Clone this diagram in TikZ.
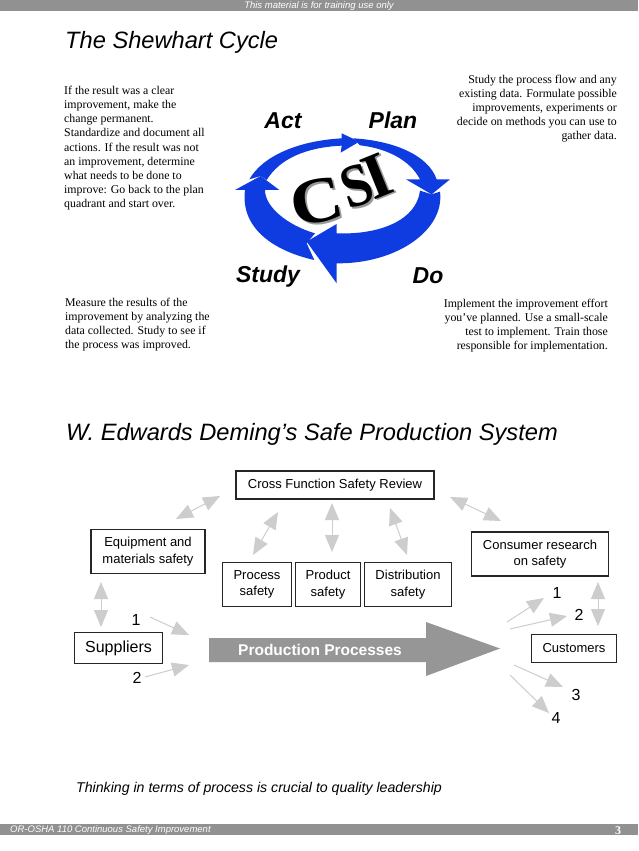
\documentclass[tikz,border=0pt]{standalone}
\usepackage{fontspec}
\setmainfont{Liberation Serif}
\setsansfont{Liberation Sans}
\usetikzlibrary{arrows.meta}
\definecolor{barg}{RGB}{145,145,145}
\definecolor{arrg}{RGB}{205,205,205}
\definecolor{bigg}{RGB}{150,150,150}
\definecolor{csib}{RGB}{15,60,225}
\tikzset{
  x=1pt,y=-1pt,
  bar/.style={fill=barg,draw=none},
  bartext/.style={font=\sffamily\itshape\fontsize{9.5}{10}\selectfont,text=white,inner sep=0},
  heading/.style={font=\sffamily\itshape\fontsize{23.65}{28}\selectfont,anchor=west,inner sep=0},
  body/.style={font=\rmfamily\fontsize{11.85}{14.15}\selectfont,inner sep=0},
  quad/.style={font=\sffamily\bfseries\itshape\fontsize{23}{26}\selectfont,inner sep=0},
  box/.style={draw=black!85,line width=1.1pt,fill=white,align=center,font=\sffamily\fontsize{13}{16.5}\selectfont,inner sep=0},
  num/.style={font=\sffamily\fontsize{16}{16}\selectfont,inner sep=0},
  twoway/.style={draw=arrg,line width=1pt,{Triangle[length=17pt,width=14pt,fill=arrg]}-{Triangle[length=17pt,width=14pt,fill=arrg]}},
  oneway/.style={draw=arrg,line width=1pt,-{Triangle[length=17pt,width=14pt,fill=arrg]}},
  csifont/.style={inner sep=0,font=\rmfamily\bfseries\fontsize{76}{76}\selectfont},
  letterc/.style={csifont,rotate=12,xscale=0.95,yscale=0.85},
  letters/.style={csifont,rotate=18,xscale=0.72,yscale=0.8},
  letteri/.style={csifont,rotate=22,xscale=0.85,yscale=0.85},
}
\begin{document}
\begin{tikzpicture}
\useasboundingbox (0,0) rectangle (638,851);
\fill[white] (0,0) rectangle (638,851);
\fill[bar] (0,0) rectangle (638,11);
\fill[bar] (0,824) rectangle (638,835);
\node[bartext] (hdr) at (319,6) {This material is for training use only};
\node[bartext,anchor=west] (ftr) at (10,830.5) {OR-OSHA 110 Continuous Safety Improvement};
\node[inner sep=0,font=\rmfamily\bfseries\fontsize{12}{12}\selectfont,text=white] (pg) at (618,831) {3};

\node[heading] (t1) at (65,42) {The Shewhart Cycle};
\node[heading] (t2) at (66,434) {W. Edwards Deming’s Safe Production System};

\node[body,anchor=north west,align=left] (actt) at (64,86) {If the result was a clear\\improvement, make the\\change permanent.\\Standardize and document all\\actions.  If the result was not\\an improvement, determine\\what needs to be done to\\improve: Go back to the plan\\quadrant and start over.};
\node[body,anchor=north east,align=right] (plant) at (617,74.5) {Study the process flow and any\\existing data.  Formulate possible\\improvements, experiments or\\decide on methods you can use to\\gather data.};
\node[body,anchor=north west,align=left] (studyt) at (65,298) {Measure the results of the\\improvement by analyzing the\\data collected.  Study to see if\\the process was improved.};
\node[body,anchor=north east,align=right] (dot) at (608,299) {Implement the improvement effort\\you’ve planned.  Use a small-scale\\test to implement.  Train those\\responsible for implementation.};

\node[quad] (act) at (283,121) {Act};
\node[quad] (plan) at (393,120) {Plan};
\node[quad] (study) at (268,277) {Study};
\node[quad] (do) at (428,276) {Do};

\begin{scope}[shift={(220,100)},x=0.3333pt,y=-0.3333pt]
\fill[csib] (88,238) .. controls (130,165) and (240,122) .. (365,115) -- (365,100) -- (418,125) -- (362,158) -- (365,137) .. controls (260,142) and (180,175) .. (140,240) -- (122,228) -- cycle;
\fill[csib] (400,115) .. controls (520,122) and (625,165) .. (650,238) -- (690,238) -- (635,283) -- (558,238) -- (600,238) .. controls (570,180) and (500,145) .. (420,136) -- cycle;
\fill[csib] (660,275) .. controls (675,390) and (530,492) .. (350,490) -- (350,550) -- (260,425) -- (350,372) -- (350,400) .. controls (480,405) and (590,360) .. (600,272) -- (635,283) -- cycle;
\fill[csib] (122,228) -- (178,270) -- (135,270) .. controls (135,320) and (200,375) .. (285,400) -- (260,430) -- (283,480) .. controls (170,455) and (60,390) .. (75,270) -- (45,270) -- cycle;
\node[letterc,text=black!40] (cs) at (296,310) {C};
\node[letters,text=black!40] (ss) at (417,264) {S};
\node[letteri,text=black!40] (is) at (477,233) {I};
\node[letterc,text=black] (c) at (290,305) {C};
\node[letters,text=black] (s) at (411,259) {S};
\node[letteri,text=black] (i) at (471,228) {I};
\end{scope}

\node[box,minimum width=198pt,minimum height=28pt] (cross) at (335,485) {Cross Function Safety Review};
\node[box,minimum width=114pt,minimum height=44pt] (equip) at (148,551.5) {Equipment and\\materials safety};
\node[box,minimum width=69pt,minimum height=44pt] (proc) at (257,584.5) {Process\\safety};
\node[box,minimum width=65pt,minimum height=44pt] (prod) at (328,584.5) {Product\\safety};
\node[box,minimum width=87pt,minimum height=44pt] (dist) at (408,584.5) {Distribution\\safety};
\node[box,minimum width=137pt,minimum height=44pt] (cons) at (540,554) {Consumer research\\on safety};
\node[box,minimum width=88pt,minimum height=31pt,font=\sffamily\fontsize{16}{18}\selectfont] (supp) at (118.5,648) {Suppliers};
\node[box,minimum width=85pt,minimum height=28pt] (cust) at (574,648.5) {Customers};

\fill[bigg] (209,638) -- (426,638) -- (426,622) -- (500,648.5) -- (426,676) -- (426,662) -- (209,662) -- cycle;
\node[inner sep=0,text=white,font=\sffamily\bfseries\fontsize{15.5}{16}\selectfont] (pp) at (320,649.5) {Production Processes};

\node[num] (n1a) at (136,620) {1};
\node[num] (n2a) at (137,678) {2};
\node[num] (n1b) at (557,593) {1};
\node[num] (n2b) at (579,615) {2};
\node[num] (n3) at (576,695) {3};
\node[num] (n4) at (556,718) {4};

\coordinate (a1s) at (176,519); \coordinate (a1e) at (220,496);
\coordinate (a2s) at (253,555); \coordinate (a2e) at (278,512);
\coordinate (a3s) at (332,552); \coordinate (a3e) at (332,503);
\coordinate (a4s) at (407,555); \coordinate (a4e) at (390,508);
\coordinate (a5s) at (450,497); \coordinate (a5e) at (501,521);
\coordinate (a6s) at (101,627); \coordinate (a6e) at (101,582);
\coordinate (a7s) at (598,626); \coordinate (a7e) at (598,582);
\draw[twoway] (a1s) -- (a1e);
\draw[twoway] (a2s) -- (a2e);
\draw[twoway] (a3s) -- (a3e);
\draw[twoway] (a4s) -- (a4e);
\draw[twoway] (a5s) -- (a5e);
\draw[twoway] (a6s) -- (a6e);
\draw[twoway] (a7s) -- (a7e);

\coordinate (b1s) at (150,617); \coordinate (b1e) at (189,635);
\coordinate (b2s) at (145,677); \coordinate (b2e) at (189,665);
\coordinate (c1s) at (507,622); \coordinate (c1e) at (544,598);
\coordinate (c2s) at (510,629); \coordinate (c2e) at (567,616);
\coordinate (c3s) at (514,665); \coordinate (c3e) at (563,687);
\coordinate (c4s) at (510,675); \coordinate (c4e) at (549,713);
\draw[oneway] (b1s) -- (b1e);
\draw[oneway] (b2s) -- (b2e);
\draw[oneway] (c1s) -- (c1e);
\draw[oneway] (c2s) -- (c2e);
\draw[oneway] (c3s) -- (c3e);
\draw[oneway] (c4s) -- (c4e);

\node[font=\sffamily\itshape\fontsize{14.15}{18}\selectfont,anchor=west,inner sep=0] (foot) at (76,789) {Thinking in terms of process is crucial to quality leadership};
\end{tikzpicture}
\end{document}
